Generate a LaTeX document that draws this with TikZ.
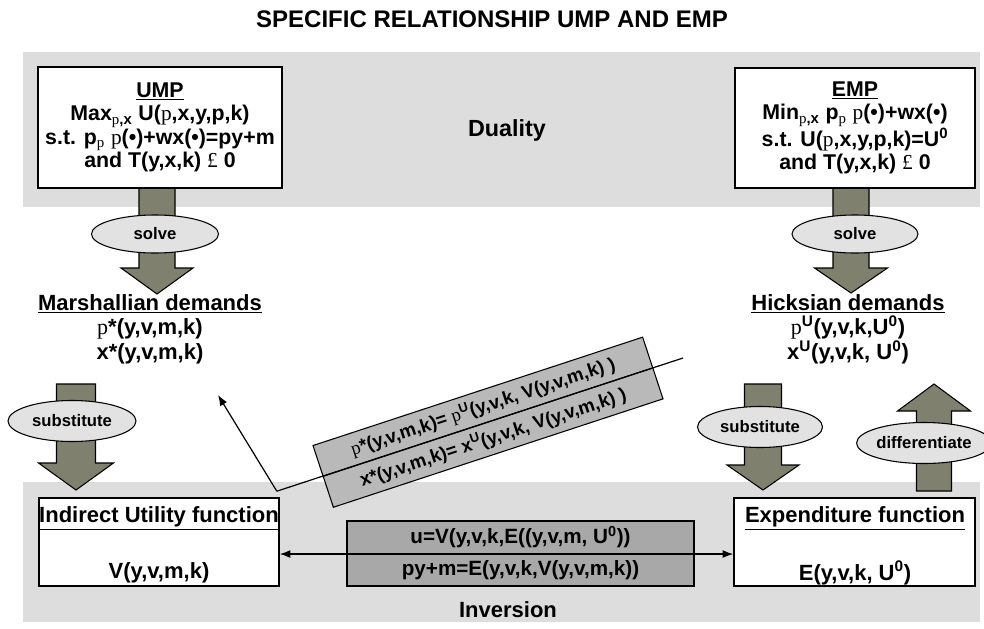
\documentclass[tikz,border=0pt]{standalone}
\usepackage{fontspec}
\setmainfont{Liberation Sans}
\newfontfamily\tms{Liberation Serif}
\usetikzlibrary{shapes.geometric,arrows.meta}
\definecolor{band}{RGB}{221,221,221}
\definecolor{olive}{RGB}{128,128,110}
\definecolor{ellfill}{RGB}{226,226,226}
\definecolor{diagfill}{RGB}{185,185,185}
\definecolor{invfill}{RGB}{168,168,168}
\newcommand\serp{{\tms\mdseries p}}
\newcommand\pound{{\tms\mdseries £}}
\newcommand\blockarrow[6]{%
  \draw[blockarr] ({#1-#5},#2) -- ({#1+#5},#2) -- ({#1+#5},#3) -- ({#1+#6},#3) -- (#1,#4) -- ({#1-#6},#3) -- ({#1-#5},#3) -- cycle;}
\tikzset{
  mainbox/.style={draw, line width=1.2pt, fill=white, inner sep=0pt, align=center, font=\bfseries\fontsize{16}{17.5}\selectfont},
  txt/.style={align=center, inner sep=0pt, font=\bfseries\fontsize{16.5}{18.5}\selectfont},
  oval/.style={ellipse, draw, line width=0.8pt, fill=ellfill, inner sep=0pt, font=\bfseries\fontsize{12.5}{14}\selectfont},
  blockarr/.style={fill=olive, draw, line width=0.8pt},
  diagbox/.style={draw, line width=0.8pt, fill=diagfill, rotate=18.2, minimum width=260.25pt, minimum height=24.4pt, inner sep=0pt, font=\bfseries\fontsize{14}{15}\selectfont},
  invbox/.style={draw, line width=0.8pt, fill=invfill, minimum width=260.25pt, minimum height=24.375pt, inner sep=0pt, font=\bfseries\fontsize{15.5}{16}\selectfont},
  thinline/.style={line width=0.9pt},
  tip/.style={-{Latex[length=8pt,width=6pt]}},
}
\begin{document}
\begin{tikzpicture}[x=0.75pt,y=-0.75pt]
\useasboundingbox (0,0) rectangle (984,628);
% title
\node[font=\bfseries\fontsize{18}{20}\selectfont] (title) at (492,19) {SPECIFIC RELATIONSHIP UMP AND EMP};
% bands
\fill[band] (23,52) rectangle (980,207);
\fill[band] (23,482) rectangle (980,622);
\node[font=\bfseries\fontsize{17.5}{20}\selectfont] (dual) at (507,130) {Duality};
\node[font=\bfseries\fontsize{16.5}{19}\selectfont] (inv) at (508,610) {Inversion};
% block arrows
\blockarrow{157}{188}{268}{294}{18}{36}
\blockarrow{851}{188}{268}{293}{18}{36.5}
\blockarrow{76}{384}{463}{490}{19.5}{37.5}
\blockarrow{763}{384}{465}{490}{18.5}{36}
\blockarrow{934}{491}{411}{384}{17.5}{36.5}
% top boxes
\node[mainbox, minimum width=183pt, minimum height=90.75pt] (ump) at (160,127.5)
  {\underline{UMP}\\
   Max\textsubscript{\serp,x} U(\serp,x,y,p,k)\\
   s.t. p\textsubscript{\serp} \serp(•)+wx(•)=py+m\\
   and T(y,x,k) \pound\ 0};
\node[mainbox, minimum width=180pt, minimum height=90pt] (emp) at (855,128)
  {\underline{EMP}\\
   Min\textsubscript{\serp,x} p\textsubscript{\serp} \serp(•)+wx(•)\\
   s.t. U(\serp,x,y,p,k)=U\textsuperscript{0}\\
   and T(y,x,k) \pound\ 0};
% ellipses
\node[oval, minimum width=95.25pt, minimum height=28.5pt] (solveL) at (155,234) {solve};
\node[oval, minimum width=94.5pt, minimum height=28.5pt] (solveR) at (855,234) {solve};
\node[oval, minimum width=96pt, minimum height=30.75pt] (subL) at (72,421) {substitute};
\node[oval, minimum width=93.75pt, minimum height=30.75pt] (subR) at (760,427) {substitute};
\node[oval, minimum width=88.5pt, minimum height=30.75pt] (diff) at (924,443) {differentiate};
% demands
\node[txt] (md) at (150,329)
  {\underline{Marshallian demands}\\ \serp*(y,v,m,k)\\ x*(y,v,m,k)};
\node[txt] (hd) at (848,329)
  {\underline{Hicksian demands}\\ \serp\textsuperscript{U}(y,v,k,U\textsuperscript{0})\\ x\textsuperscript{U}(y,v,k, U\textsuperscript{0})};
% bottom boxes
\node[mainbox, minimum width=180pt, minimum height=66pt] (iu) at (159,542) {};
\node[txt] (iut) at (159,518) {\underline{Indirect Utility function}};
\node[txt] (iuv) at (159,573) {V(y,v,m,k)};
\node[mainbox, minimum width=180.75pt, minimum height=66pt] (ef) at (854.5,542) {};
\node[txt] (eft) at (855,518) {\underline{Expenditure function}};
\node[txt] (efv) at (855,573) {E(y,v,k, U\textsuperscript{0})};
% inversion boxes
\node[invbox] (invT) at (520.5,537.25) {u=V(y,v,k,E((y,v,m, U\textsuperscript{0}))};
\node[invbox] (invB) at (520.5,569.75) {py+m=E(y,v,k,V(y,v,m,k))};
\draw[thinline, {Latex[length=8pt,width=6pt]}-{Latex[length=8pt,width=6pt]}] (iu.east |- invT.south) -- (ef.west |- invT.south);
% diagonal
\coordinate (A) at ([shift={(-3,-6)}]iu.north east);
\coordinate (B) at (683,358);
\coordinate (T) at (218,395);
\node[diagbox] (dT) at (482.9,406.8) {\serp*(y,v,m,k)= \serp\textsuperscript{U}(y,v,k, V(y,v,m,k) )};
\node[diagbox] (dB) at (493.1,437.6) {x*(y,v,m,k)= x\textsuperscript{U}(y,v,k, V(y,v,m,k) )};
\draw[thinline] (A) -- (B);
\draw[thinline, tip] (A) -- (T);
\end{tikzpicture}
\end{document}
